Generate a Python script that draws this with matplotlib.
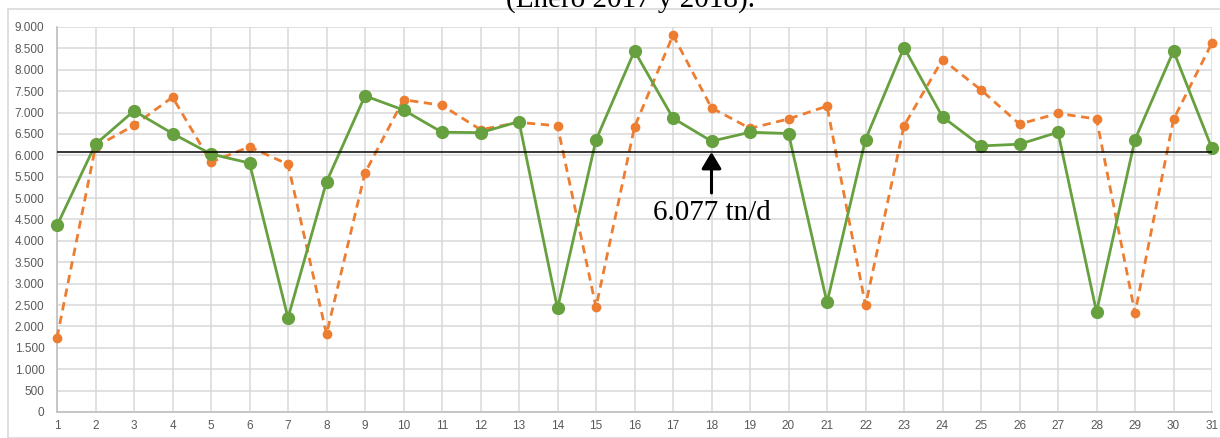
import numpy as np
import matplotlib
matplotlib.use("Agg")
import matplotlib.pyplot as plt
from matplotlib.patches import Rectangle
from matplotlib.ticker import FuncFormatter, MultipleLocator

# days of the month
days = list(range(1, 32))

# daily production, tn/d (green solid and orange dashed series)
serie_verde = [4360, 6260, 7040, 6510, 6030, 5820, 2200, 5380, 7390, 7060,
               6540, 6530, 6790, 2420, 6360, 8440, 6870, 6330, 6540, 6510,
               2560, 6370, 8520, 6900, 6220, 6260, 6540, 2340, 6370, 8440, 6160]
serie_naranja = [1740, 6200, 6700, 7360, 5840, 6200, 5790, 1820, 5590, 7300,
                 7170, 6600, 6770, 6690, 2450, 6660, 8810, 7110, 6630, 6850,
                 7150, 2490, 6690, 8240, 7530, 6730, 6980, 6850, 2310, 6840, 8630]

promedio = 6077
etiqueta = "6.077 tn/d"
titulo = "(Enero 2017 y 2018)."

fig = plt.figure(figsize=(12.2, 4.38), dpi=100)
ax = fig.add_axes([57 / 1220, 1 - 412 / 438, (1212 - 57) / 1220, (412 - 27) / 438])

# outer chart border
fig.patches.append(Rectangle((8 / 1220, 0), 1.0, 1 - 9 / 438, transform=fig.transFigure,
                             fill=False, edgecolor="#d9d9d9", linewidth=1.2))

ax.plot(days, serie_naranja, color="#ED7D31", linestyle=(0, (3, 2)), linewidth=2.0,
        marker="o", markersize=6, clip_on=False, zorder=3)
ax.plot(days, serie_verde, color="#67A03F", linewidth=2.0,
        marker="o", markersize=8.5, clip_on=False, zorder=4)

ax.axhline(promedio, color="black", linewidth=1.1, zorder=5)

ax.annotate("", xy=(18, promedio), xytext=(18, 5120),
            arrowprops=dict(arrowstyle="-|>,head_length=0.5,head_width=0.3",
                            color="black", lw=2.2, mutation_scale=20,
                            shrinkA=0, shrinkB=0), zorder=6)
ax.text(18, 4490, etiqueta, ha="center", va="baseline", fontsize=21,
        family=["Liberation Serif", "DejaVu Serif"], zorder=6)

fig.text(630 / 1220, 1 - 7 / 438, titulo, ha="center", va="baseline", fontsize=21,
         family=["Liberation Serif", "DejaVu Serif"])

ax.set_xlim(1, 31)
ax.set_ylim(0, 9000)
ax.set_xticks(days)
ax.yaxis.set_major_locator(MultipleLocator(500))
ax.yaxis.set_major_formatter(FuncFormatter(lambda v, p: f"{int(v):,}".replace(",", ".")))

tick_font = ["Liberation Sans", "DejaVu Sans"]
ax.tick_params(length=0, labelsize=8.5, labelcolor="#595959")
ax.tick_params(axis="y", pad=9)
ax.tick_params(axis="x", pad=6)
for lab in ax.get_xticklabels() + ax.get_yticklabels():
    lab.set_family(tick_font)

ax.grid(True, color="#d9d9d9", linewidth=1.1)
ax.set_axisbelow(True)
for s in ["top", "right"]:
    ax.spines[s].set_visible(False)
for s in ["left", "bottom"]:
    ax.spines[s].set_color("#bfbfbf")
    ax.spines[s].set_linewidth(1.2)

fig.savefig("out.png", dpi=100)
